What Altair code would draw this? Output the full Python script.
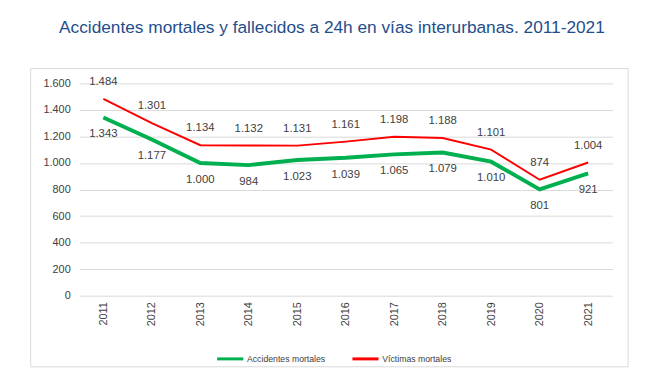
import altair as alt
import pandas as pd

years = ["2011", "2012", "2013", "2014", "2015", "2016", "2017", "2018", "2019", "2020", "2021"]
accidentes = [1343, 1177, 1000, 984, 1023, 1039, 1065, 1079, 1010, 801, 921]
victimas = [1484, 1301, 1134, 1132, 1131, 1161, 1198, 1188, 1101, 874, 1004]
series = ["Accidentes mortales", "Víctimas mortales"]
colors = ["#00b050", "#ff0000"]

def es(n):
    return f"{n:,}".replace(",", ".")

rows = []
for y, a, v in zip(years, accidentes, victimas):
    rows.append({"year": y, "serie": series[0], "value": a, "label": es(a)})
    rows.append({"year": y, "serie": series[1], "value": v, "label": es(v)})
df = pd.DataFrame(rows)

font = "Liberation Sans"

x = alt.X("year:N", title=None, scale=alt.Scale(paddingInner=0, paddingOuter=0),
          axis=alt.Axis(labelAngle=-90, ticks=False, domain=False, labelPadding=6,
                        labelFontSize=11, labelColor="#404040", labelFont=font))
y = alt.Y("value:Q", title=None, scale=alt.Scale(domain=[0, 1600], nice=False),
          axis=alt.Axis(values=list(range(0, 1601, 200)), ticks=False, domain=False,
                        labelPadding=9, labelFontSize=11, labelColor="#404040", labelFont=font,
                        gridColor="#d9d9d9",
                        labelExpr="replace(format(datum.value, ','), ',', '.')"))

base = alt.Chart(df)

frame = alt.Chart(pd.DataFrame({"k": [0]})).mark_rect(
    fill=None, stroke="#d9d9d9", strokeWidth=1
).encode(x=alt.value(-49), x2=alt.value(556), y=alt.value(-15), y2=alt.value(287))

lines = base.transform_calculate(
    sw="datum.serie == 'Accidentes mortales' ? 4 : 2"
).mark_line(strokeCap="butt").encode(
    x=x, y=y,
    color=alt.Color("serie:N", scale=alt.Scale(domain=series, range=colors),
                    legend=alt.Legend(title=None, orient="none", direction="horizontal",
                                      legendX=138, legendY=264, symbolType="stroke",
                                      symbolSize=700, symbolStrokeWidth=3,
                                      labelFontSize=8.8, labelColor="#404040", labelFont=font,
                                      columnPadding=20, labelOffset=2)),
    strokeWidth=alt.StrokeWidth("sw:Q", scale=None, legend=None),
    order="year:N",
)

lab_red = base.transform_filter(alt.datum.serie == series[1]).mark_text(
    dy=-17, fontSize=11.5, color="#404040", font=font
).encode(x=x, y=y, text="label:N")

lab_green = base.transform_filter(alt.datum.serie == series[0]).mark_text(
    dy=17, fontSize=11.5, color="#404040", font=font
).encode(x=x, y=y, text="label:N")

chart = alt.layer(frame, lines, lab_red, lab_green).properties(
    width=540, height=215,
    autosize=alt.AutoSizeParams(type="none"),
    padding={"left": 72, "top": 74, "right": 30, "bottom": 80},
    title=alt.TitleParams("Accidentes mortales y fallecidos a 24h en vías interurbanas. 2011-2021",
                          font=font, fontSize=17.5, fontWeight="normal", color="#1f4e8c",
                          anchor="middle", dx=-14, offset=32),
).configure_view(stroke=None)

chart.save("out.html", embed_options={"renderer": "svg", "actions": False})
